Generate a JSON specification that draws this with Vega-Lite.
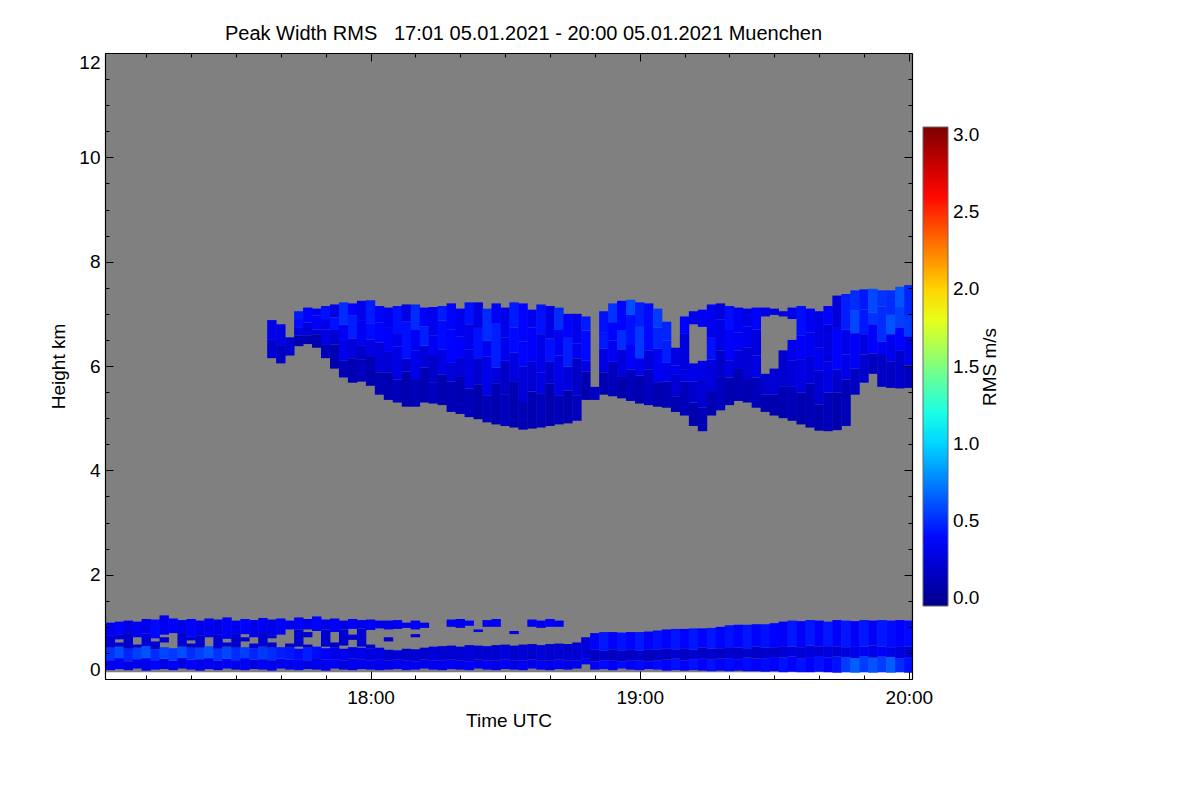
{
  "$schema": "https://vega.github.io/schema/vega-lite/v6.json",
  "width": 807,
  "height": 626,
  "autosize": {"type": "none"},
  "padding": {"left": 105, "top": 53, "right": 288, "bottom": 121},
  "background": "white",
  "title": {
    "text": "Peak Width RMS\u00a0\u00a0\u00a017:01 05.01.2021 - 20:00 05.01.2021 Muenchen",
    "font": "Liberation Sans",
    "fontSize": 20,
    "fontWeight": "normal",
    "color": "black",
    "dx": 15,
    "offset": 9
  },
  "config": {
    "font": "Liberation Sans",
    "view": {"stroke": null}
  },
  "datasets": {
    "bg": [{"t0": 0.8, "t1": 180.7, "a": 0.13, "b": 12}],
    "c": [
      {"t":2,"a":0.17,"b":0.36,"v":0.3},{"t":2,"a":0.36,"b":0.6,"v":0.52},{"t":2,"a":0.6,"b":0.84,"v":0.22},{"t":2,"a":0.84,"b":1.08,"v":0.32},
      {"t":4,"a":0.19,"b":0.4,"v":0.36},{"t":4,"a":0.4,"b":0.62,"v":0.6},{"t":4,"a":0.62,"b":0.7,"v":0.2},{"t":4,"a":0.76,"b":0.86,"v":0.24},{"t":4,"a":0.86,"b":1.1,"v":0.38},
      {"t":6,"a":0.17,"b":0.34,"v":0.28},{"t":6,"a":0.34,"b":0.58,"v":0.48},{"t":6,"a":0.58,"b":0.88,"v":0.18},{"t":6,"a":0.88,"b":1.12,"v":0.28},
      {"t":8,"a":0.2,"b":0.38,"v":0.34},{"t":8,"a":0.38,"b":0.6,"v":0.56},{"t":8,"a":0.6,"b":0.66,"v":0.22},{"t":8,"a":0.8,"b":1.1,"v":0.34},
      {"t":10,"a":0.16,"b":0.4,"v":0.3},{"t":10,"a":0.4,"b":0.63,"v":0.62},{"t":10,"a":0.63,"b":0.87,"v":0.24},{"t":10,"a":0.87,"b":1.15,"v":0.3},
      {"t":12,"a":0.18,"b":0.36,"v":0.38},{"t":12,"a":0.36,"b":0.57,"v":0.5},{"t":12,"a":0.57,"b":0.72,"v":0.2},{"t":12,"a":0.78,"b":1.14,"v":0.4},
      {"t":14,"a":0.19,"b":0.39,"v":0.3},{"t":14,"a":0.39,"b":0.61,"v":0.58},{"t":14,"a":0.7,"b":0.8,"v":0.22},{"t":14,"a":0.85,"b":1.22,"v":0.32},
      {"t":16,"a":0.17,"b":0.35,"v":0.34},{"t":16,"a":0.35,"b":0.59,"v":0.54},{"t":16,"a":0.88,"b":1.16,"v":0.36},
      {"t":18,"a":0.2,"b":0.41,"v":0.28},{"t":18,"a":0.41,"b":0.62,"v":0.6},{"t":18,"a":0.62,"b":0.9,"v":0.22},{"t":18,"a":0.9,"b":1.13,"v":0.3},
      {"t":20,"a":0.18,"b":0.37,"v":0.36},{"t":20,"a":0.37,"b":0.6,"v":0.5},{"t":20,"a":0.6,"b":0.68,"v":0.2},{"t":20,"a":0.74,"b":0.82,"v":0.24},{"t":20,"a":0.82,"b":1.15,"v":0.38},
      {"t":22,"a":0.16,"b":0.38,"v":0.3},{"t":22,"a":0.38,"b":0.6,"v":0.56},{"t":22,"a":0.6,"b":0.84,"v":0.2},{"t":22,"a":0.84,"b":1.12,"v":0.3},
      {"t":24,"a":0.19,"b":0.4,"v":0.34},{"t":24,"a":0.4,"b":0.63,"v":0.62},{"t":24,"a":0.8,"b":1.16,"v":0.34},
      {"t":26,"a":0.17,"b":0.35,"v":0.3},{"t":26,"a":0.35,"b":0.58,"v":0.52},{"t":26,"a":0.58,"b":0.86,"v":0.22},{"t":26,"a":0.86,"b":1.14,"v":0.28},
      {"t":28,"a":0.2,"b":0.39,"v":0.36},{"t":28,"a":0.39,"b":0.62,"v":0.58},{"t":28,"a":0.62,"b":0.7,"v":0.2},{"t":28,"a":0.77,"b":1.18,"v":0.36},
      {"t":30,"a":0.18,"b":0.36,"v":0.3},{"t":30,"a":0.36,"b":0.6,"v":0.5},{"t":30,"a":0.6,"b":0.88,"v":0.2},{"t":30,"a":0.88,"b":1.12,"v":0.32},
      {"t":32,"a":0.17,"b":0.4,"v":0.34},{"t":32,"a":0.4,"b":0.61,"v":0.56},{"t":32,"a":0.72,"b":0.8,"v":0.2},{"t":32,"a":0.86,"b":1.15,"v":0.38},
      {"t":34,"a":0.19,"b":0.37,"v":0.28},{"t":34,"a":0.37,"b":0.59,"v":0.48},{"t":34,"a":0.59,"b":0.68,"v":0.22},{"t":34,"a":0.8,"b":1.13,"v":0.3},
      {"t":36,"a":0.18,"b":0.38,"v":0.34},{"t":36,"a":0.38,"b":0.62,"v":0.54},{"t":36,"a":0.62,"b":0.9,"v":0.2},{"t":36,"a":0.9,"b":1.17,"v":0.34},
      {"t":38,"a":0.16,"b":0.36,"v":0.3},{"t":38,"a":0.36,"b":0.6,"v":0.5},{"t":38,"a":0.6,"b":0.7,"v":0.2},{"t":38,"a":0.78,"b":0.84,"v":0.22},{"t":38,"a":0.84,"b":1.14,"v":0.3},
      {"t":40,"a":0.2,"b":0.39,"v":0.32},{"t":40,"a":0.39,"b":0.61,"v":0.46},{"t":40,"a":0.85,"b":1.16,"v":0.36},
      {"t":42,"a":0.18,"b":0.37,"v":0.3},{"t":42,"a":0.37,"b":0.6,"v":0.44},{"t":42,"a":0.6,"b":0.68,"v":0.22},{"t":42,"a":0.95,"b":1.12,"v":0.32},
      {"t":44,"a":0.17,"b":0.38,"v":0.34},{"t":44,"a":0.38,"b":0.58,"v":0.4},{"t":44,"a":0.62,"b":0.95,"v":0.2},{"t":44,"a":0.95,"b":1.18,"v":0.36},
      {"t":46,"a":0.19,"b":0.36,"v":0.28},{"t":46,"a":0.36,"b":0.6,"v":0.46},{"t":46,"a":0.6,"b":0.66,"v":0.22},{"t":46,"a":0.8,"b":0.9,"v":0.2},{"t":46,"a":0.95,"b":1.15,"v":0.3},
      {"t":48,"a":0.18,"b":0.4,"v":0.32},{"t":48,"a":0.4,"b":0.62,"v":0.4},{"t":48,"a":0.92,"b":1.2,"v":0.38},
      {"t":50,"a":0.16,"b":0.37,"v":0.3},{"t":50,"a":0.37,"b":0.59,"v":0.36},{"t":50,"a":0.62,"b":0.95,"v":0.2},{"t":50,"a":0.95,"b":1.14,"v":0.3},
      {"t":52,"a":0.2,"b":0.38,"v":0.34},{"t":52,"a":0.38,"b":0.6,"v":0.3},{"t":52,"a":0.6,"b":0.7,"v":0.2},{"t":52,"a":0.9,"b":1.16,"v":0.34},
      {"t":54,"a":0.18,"b":0.36,"v":0.28},{"t":54,"a":0.36,"b":0.58,"v":0.32},{"t":54,"a":0.64,"b":0.95,"v":0.2},{"t":54,"a":0.95,"b":1.12,"v":0.28},
      {"t":56,"a":0.17,"b":0.39,"v":0.3},{"t":56,"a":0.39,"b":0.61,"v":0.28},{"t":56,"a":0.75,"b":0.85,"v":0.2},{"t":56,"a":0.96,"b":1.15,"v":0.36},
      {"t":58,"a":0.19,"b":0.37,"v":0.32},{"t":58,"a":0.37,"b":0.6,"v":0.3},{"t":58,"a":0.62,"b":0.97,"v":0.22},{"t":58,"a":0.97,"b":1.13,"v":0.3},
      {"t":60,"a":0.18,"b":0.36,"v":0.3},{"t":60,"a":0.36,"b":0.59,"v":0.26},{"t":60,"a":0.59,"b":0.66,"v":0.2},{"t":60,"a":0.94,"b":1.14,"v":0.34},
      {"t":62,"a":0.17,"b":0.38,"v":0.32},{"t":62,"a":0.38,"b":0.6,"v":0.28},{"t":62,"a":0.97,"b":1.12,"v":0.3},
      {"t":64,"a":0.18,"b":0.35,"v":0.3},{"t":64,"a":0.35,"b":0.56,"v":0.2},{"t":64,"a":0.72,"b":0.8,"v":0.2},{"t":64,"a":0.95,"b":1.12,"v":0.3},
      {"t":66,"a":0.19,"b":0.37,"v":0.34},{"t":66,"a":0.37,"b":0.55,"v":0.22},{"t":66,"a":0.96,"b":1.13,"v":0.34},
      {"t":68,"a":0.17,"b":0.36,"v":0.3},{"t":68,"a":0.36,"b":0.58,"v":0.2},{"t":68,"a":0.98,"b":1.08,"v":0.3},
      {"t":70,"a":0.18,"b":0.34,"v":0.34},{"t":70,"a":0.34,"b":0.57,"v":0.22},{"t":70,"a":0.8,"b":0.86,"v":0.2},{"t":70,"a":0.95,"b":1.12,"v":0.36},
      {"t":72,"a":0.2,"b":0.37,"v":0.3},{"t":72,"a":0.37,"b":0.6,"v":0.2},{"t":72,"a":0.98,"b":1.08,"v":0.3},
      {"t":74,"a":0.18,"b":0.36,"v":0.34},{"t":74,"a":0.36,"b":0.62,"v":0.24},
      {"t":76,"a":0.17,"b":0.35,"v":0.3},{"t":76,"a":0.35,"b":0.63,"v":0.2},
      {"t":78,"a":0.19,"b":0.37,"v":0.34},{"t":78,"a":0.37,"b":0.64,"v":0.22},{"t":78,"a":1.0,"b":1.14,"v":0.35},
      {"t":80,"a":0.18,"b":0.36,"v":0.3},{"t":80,"a":0.36,"b":0.62,"v":0.2},{"t":80,"a":0.98,"b":1.15,"v":0.3},
      {"t":82,"a":0.17,"b":0.34,"v":0.34},{"t":82,"a":0.34,"b":0.65,"v":0.24},{"t":82,"a":1.02,"b":1.12,"v":0.35},
      {"t":84,"a":0.2,"b":0.37,"v":0.3},{"t":84,"a":0.37,"b":0.64,"v":0.2},{"t":84,"a":0.9,"b":0.95,"v":0.3},
      {"t":86,"a":0.18,"b":0.35,"v":0.34},{"t":86,"a":0.35,"b":0.63,"v":0.22},{"t":86,"a":1.0,"b":1.13,"v":0.32},
      {"t":88,"a":0.17,"b":0.36,"v":0.3},{"t":88,"a":0.36,"b":0.65,"v":0.2},{"t":88,"a":1.0,"b":1.15,"v":0.36},
      {"t":90,"a":0.19,"b":0.37,"v":0.34},{"t":90,"a":0.37,"b":0.66,"v":0.24},
      {"t":92,"a":0.18,"b":0.35,"v":0.3},{"t":92,"a":0.35,"b":0.64,"v":0.2},{"t":92,"a":0.86,"b":0.92,"v":0.3},
      {"t":94,"a":0.17,"b":0.36,"v":0.34},{"t":94,"a":0.36,"b":0.66,"v":0.22},
      {"t":96,"a":0.2,"b":0.37,"v":0.3},{"t":96,"a":0.37,"b":0.67,"v":0.2},{"t":96,"a":1.0,"b":1.14,"v":0.34},
      {"t":98,"a":0.18,"b":0.35,"v":0.34},{"t":98,"a":0.35,"b":0.65,"v":0.24},{"t":98,"a":0.98,"b":1.12,"v":0.3},
      {"t":100,"a":0.17,"b":0.36,"v":0.3},{"t":100,"a":0.36,"b":0.67,"v":0.2},{"t":100,"a":1.0,"b":1.15,"v":0.36},
      {"t":102,"a":0.19,"b":0.37,"v":0.34},{"t":102,"a":0.37,"b":0.68,"v":0.22},{"t":102,"a":1.0,"b":1.12,"v":0.32},
      {"t":104,"a":0.18,"b":0.35,"v":0.3},{"t":104,"a":0.35,"b":0.67,"v":0.2},
      {"t":106,"a":0.2,"b":0.36,"v":0.32},{"t":106,"a":0.36,"b":0.7,"v":0.22},
      {"t":108,"a":0.28,"b":0.4,"v":0.3},{"t":108,"a":0.4,"b":0.8,"v":0.24},
      {"t":110,"a":0.18,"b":0.34,"v":0.35},{"t":110,"a":0.34,"b":0.56,"v":0.14},{"t":110,"a":0.56,"b":0.88,"v":0.36},
      {"t":112,"a":0.19,"b":0.36,"v":0.4},{"t":112,"a":0.36,"b":0.54,"v":0.18},{"t":112,"a":0.54,"b":0.9,"v":0.44},
      {"t":114,"a":0.17,"b":0.35,"v":0.35},{"t":114,"a":0.35,"b":0.57,"v":0.14},{"t":114,"a":0.57,"b":0.9,"v":0.36},
      {"t":116,"a":0.2,"b":0.34,"v":0.4},{"t":116,"a":0.34,"b":0.55,"v":0.18},{"t":116,"a":0.55,"b":0.89,"v":0.42},
      {"t":118,"a":0.18,"b":0.36,"v":0.35},{"t":118,"a":0.36,"b":0.56,"v":0.14},{"t":118,"a":0.56,"b":0.9,"v":0.38},
      {"t":120,"a":0.17,"b":0.35,"v":0.4},{"t":120,"a":0.35,"b":0.54,"v":0.18},{"t":120,"a":0.54,"b":0.9,"v":0.44},
      {"t":122,"a":0.19,"b":0.34,"v":0.35},{"t":122,"a":0.34,"b":0.56,"v":0.14},{"t":122,"a":0.56,"b":0.91,"v":0.36},
      {"t":124,"a":0.18,"b":0.36,"v":0.4},{"t":124,"a":0.36,"b":0.57,"v":0.18},{"t":124,"a":0.57,"b":0.93,"v":0.42},
      {"t":126,"a":0.16,"b":0.37,"v":0.36},{"t":126,"a":0.37,"b":0.58,"v":0.16},{"t":126,"a":0.58,"b":0.95,"v":0.38},
      {"t":128,"a":0.17,"b":0.39,"v":0.42},{"t":128,"a":0.39,"b":0.57,"v":0.2},{"t":128,"a":0.57,"b":0.96,"v":0.44},
      {"t":130,"a":0.16,"b":0.36,"v":0.36},{"t":130,"a":0.36,"b":0.59,"v":0.16},{"t":130,"a":0.59,"b":0.96,"v":0.38},
      {"t":132,"a":0.17,"b":0.38,"v":0.42},{"t":132,"a":0.38,"b":0.56,"v":0.2},{"t":132,"a":0.56,"b":0.97,"v":0.44},
      {"t":134,"a":0.16,"b":0.4,"v":0.36},{"t":134,"a":0.4,"b":0.6,"v":0.16},{"t":134,"a":0.6,"b":0.97,"v":0.38},
      {"t":136,"a":0.15,"b":0.37,"v":0.42},{"t":136,"a":0.37,"b":0.58,"v":0.2},{"t":136,"a":0.58,"b":0.98,"v":0.44},
      {"t":138,"a":0.16,"b":0.39,"v":0.36},{"t":138,"a":0.39,"b":0.59,"v":0.16},{"t":138,"a":0.59,"b":1.0,"v":0.38},
      {"t":140,"a":0.15,"b":0.4,"v":0.4},{"t":140,"a":0.4,"b":0.61,"v":0.2},{"t":140,"a":0.61,"b":1.03,"v":0.42},
      {"t":142,"a":0.16,"b":0.38,"v":0.36},{"t":142,"a":0.38,"b":0.6,"v":0.18},{"t":142,"a":0.6,"b":1.04,"v":0.38},
      {"t":144,"a":0.15,"b":0.41,"v":0.4},{"t":144,"a":0.41,"b":0.59,"v":0.2},{"t":144,"a":0.59,"b":1.04,"v":0.44},
      {"t":146,"a":0.15,"b":0.39,"v":0.36},{"t":146,"a":0.39,"b":0.62,"v":0.18},{"t":146,"a":0.62,"b":1.05,"v":0.38},
      {"t":148,"a":0.14,"b":0.4,"v":0.4},{"t":148,"a":0.4,"b":0.6,"v":0.2},{"t":148,"a":0.6,"b":1.05,"v":0.42},
      {"t":150,"a":0.15,"b":0.42,"v":0.36},{"t":150,"a":0.42,"b":0.61,"v":0.18},{"t":150,"a":0.61,"b":1.07,"v":0.38},
      {"t":152,"a":0.13,"b":0.41,"v":0.42},{"t":152,"a":0.41,"b":0.63,"v":0.22},{"t":152,"a":0.63,"b":1.1,"v":0.36},
      {"t":154,"a":0.14,"b":0.43,"v":0.36},{"t":154,"a":0.43,"b":0.62,"v":0.26},{"t":154,"a":0.62,"b":1.12,"v":0.44},
      {"t":156,"a":0.13,"b":0.4,"v":0.42},{"t":156,"a":0.4,"b":0.61,"v":0.22},{"t":156,"a":0.61,"b":1.11,"v":0.36},
      {"t":158,"a":0.13,"b":0.42,"v":0.36},{"t":158,"a":0.42,"b":0.64,"v":0.26},{"t":158,"a":0.64,"b":1.13,"v":0.44},
      {"t":160,"a":0.14,"b":0.44,"v":0.42},{"t":160,"a":0.44,"b":0.62,"v":0.22},{"t":160,"a":0.62,"b":1.12,"v":0.36},
      {"t":162,"a":0.13,"b":0.41,"v":0.36},{"t":162,"a":0.41,"b":0.63,"v":0.26},{"t":162,"a":0.63,"b":1.1,"v":0.44},
      {"t":164,"a":0.12,"b":0.43,"v":0.42},{"t":164,"a":0.43,"b":0.62,"v":0.22},{"t":164,"a":0.62,"b":1.13,"v":0.36},
      {"t":166,"a":0.13,"b":0.42,"v":0.55},{"t":166,"a":0.42,"b":0.61,"v":0.26},{"t":166,"a":0.61,"b":1.12,"v":0.44},
      {"t":168,"a":0.12,"b":0.4,"v":0.65},{"t":168,"a":0.4,"b":0.63,"v":0.3},{"t":168,"a":0.63,"b":1.11,"v":0.36},
      {"t":170,"a":0.13,"b":0.44,"v":0.55},{"t":170,"a":0.44,"b":0.62,"v":0.34},{"t":170,"a":0.62,"b":1.13,"v":0.44},
      {"t":172,"a":0.12,"b":0.41,"v":0.62},{"t":172,"a":0.41,"b":0.64,"v":0.3},{"t":172,"a":0.64,"b":1.12,"v":0.36},
      {"t":174,"a":0.13,"b":0.43,"v":0.55},{"t":174,"a":0.43,"b":0.62,"v":0.36},{"t":174,"a":0.62,"b":1.13,"v":0.44},
      {"t":176,"a":0.12,"b":0.42,"v":0.65},{"t":176,"a":0.42,"b":0.61,"v":0.3},{"t":176,"a":0.61,"b":1.12,"v":0.4},
      {"t":178,"a":0.13,"b":0.4,"v":0.5},{"t":178,"a":0.4,"b":0.63,"v":0.26},{"t":178,"a":0.63,"b":1.13,"v":0.36},
      {"t":180,"a":0.12,"b":0.42,"v":0.42},{"t":180,"a":0.42,"b":0.62,"v":0.22},{"t":180,"a":0.62,"b":1.12,"v":0.4},

      {"t":38,"a":6.15,"b":6.5,"v":0.2},{"t":38,"a":6.5,"b":6.88,"v":0.3},
      {"t":40,"a":6.05,"b":6.4,"v":0.16},{"t":40,"a":6.4,"b":6.8,"v":0.28},
      {"t":42,"a":6.2,"b":6.55,"v":0.2},
      {"t":44,"a":6.38,"b":6.58,"v":0.09},{"t":44,"a":6.58,"b":6.73,"v":0.27},{"t":44,"a":6.73,"b":6.9,"v":0.4},{"t":44,"a":6.9,"b":7.05,"v":0.45},
      {"t":46,"a":6.42,"b":6.59,"v":0.11},{"t":46,"a":6.59,"b":6.83,"v":0.24},{"t":46,"a":6.83,"b":6.92,"v":0.38},{"t":46,"a":6.92,"b":7.12,"v":0.38},
      {"t":48,"a":6.35,"b":6.61,"v":0.1},{"t":48,"a":6.61,"b":6.7,"v":0.22},{"t":48,"a":6.7,"b":6.97,"v":0.36},{"t":48,"a":6.97,"b":7.1,"v":0.32},
      {"t":50,"a":6.15,"b":6.42,"v":0.13},{"t":50,"a":6.42,"b":6.7,"v":0.28},{"t":50,"a":6.7,"b":6.9,"v":0.3},{"t":50,"a":6.9,"b":7.15,"v":0.42},
      {"t":52,"a":5.95,"b":6.41,"v":0.08},{"t":52,"a":6.41,"b":6.69,"v":0.2},{"t":52,"a":6.69,"b":6.93,"v":0.42},{"t":52,"a":6.93,"b":7.18,"v":0.28},
      {"t":54,"a":5.78,"b":6.1,"v":0.12},{"t":54,"a":6.1,"b":6.5,"v":0.3},{"t":54,"a":6.5,"b":6.79,"v":0.34},{"t":54,"a":6.79,"b":7.22,"v":0.5},
      {"t":56,"a":5.68,"b":6.15,"v":0.1},{"t":56,"a":6.15,"b":6.53,"v":0.25},{"t":56,"a":6.53,"b":6.97,"v":0.46},{"t":56,"a":6.97,"b":7.2,"v":0.36},
      {"t":58,"a":5.7,"b":6.13,"v":0.14},{"t":58,"a":6.13,"b":6.4,"v":0.18},{"t":58,"a":6.4,"b":6.88,"v":0.32},{"t":58,"a":6.88,"b":7.25,"v":0.3},
      {"t":60,"a":5.62,"b":6.19,"v":0.09},{"t":60,"a":6.19,"b":6.51,"v":0.27},{"t":60,"a":6.51,"b":6.82,"v":0.4},{"t":60,"a":6.82,"b":7.26,"v":0.45},
      {"t":62,"a":5.45,"b":5.88,"v":0.11},{"t":62,"a":5.88,"b":6.45,"v":0.24},{"t":62,"a":6.45,"b":6.83,"v":0.38},{"t":62,"a":6.83,"b":7.15,"v":0.38},
      {"t":64,"a":5.35,"b":5.88,"v":0.1},{"t":64,"a":5.88,"b":6.27,"v":0.22},{"t":64,"a":6.27,"b":6.73,"v":0.36},{"t":64,"a":6.73,"b":7.12,"v":0.32},
      {"t":66,"a":5.3,"b":5.74,"v":0.13},{"t":66,"a":5.74,"b":6.37,"v":0.28},{"t":66,"a":6.37,"b":6.63,"v":0.3},{"t":66,"a":6.63,"b":7.15,"v":0.42},
      {"t":68,"a":5.22,"b":5.89,"v":0.08},{"t":68,"a":5.89,"b":6.14,"v":0.2},{"t":68,"a":6.14,"b":6.85,"v":0.42},{"t":68,"a":6.85,"b":7.18,"v":0.28},
      {"t":70,"a":5.22,"b":5.75,"v":0.12},{"t":70,"a":5.75,"b":6.3,"v":0.3},{"t":70,"a":6.3,"b":6.69,"v":0.34},{"t":70,"a":6.69,"b":7.18,"v":0.5},
      {"t":72,"a":5.3,"b":5.97,"v":0.1},{"t":72,"a":5.97,"b":6.39,"v":0.25},{"t":72,"a":6.39,"b":6.76,"v":0.46},{"t":72,"a":6.76,"b":7.12,"v":0.36},
      {"t":74,"a":5.28,"b":5.69,"v":0.14},{"t":74,"a":5.69,"b":6.21,"v":0.18},{"t":74,"a":6.21,"b":6.58,"v":0.32},{"t":74,"a":6.58,"b":7.13,"v":0.3},
      {"t":76,"a":5.25,"b":5.84,"v":0.09},{"t":76,"a":5.84,"b":6.31,"v":0.27},{"t":76,"a":6.31,"b":6.87,"v":0.4},{"t":76,"a":6.87,"b":7.15,"v":0.45},
      {"t":78,"a":5.12,"b":5.7,"v":0.11},{"t":78,"a":5.7,"b":6.06,"v":0.24},{"t":78,"a":6.06,"b":6.7,"v":0.38},{"t":78,"a":6.7,"b":7.2,"v":0.38},
      {"t":80,"a":5.08,"b":5.79,"v":0.1},{"t":80,"a":5.79,"b":6.17,"v":0.22},{"t":80,"a":6.17,"b":6.56,"v":0.36},{"t":80,"a":6.56,"b":7.1,"v":0.32},
      {"t":82,"a":5.02,"b":5.57,"v":0.13},{"t":82,"a":5.57,"b":6.32,"v":0.28},{"t":82,"a":6.32,"b":6.8,"v":0.3},{"t":82,"a":6.8,"b":7.22,"v":0.42},
      {"t":84,"a":4.98,"b":5.65,"v":0.08},{"t":84,"a":5.65,"b":6.15,"v":0.2},{"t":84,"a":6.15,"b":6.73,"v":0.42},{"t":84,"a":6.73,"b":7.22,"v":0.28},
      {"t":86,"a":4.92,"b":5.44,"v":0.12},{"t":86,"a":5.44,"b":6.18,"v":0.3},{"t":86,"a":6.18,"b":6.49,"v":0.34},{"t":86,"a":6.49,"b":7.1,"v":0.5},
      {"t":88,"a":4.88,"b":5.67,"v":0.1},{"t":88,"a":5.67,"b":5.97,"v":0.25},{"t":88,"a":5.97,"b":6.81,"v":0.46},{"t":88,"a":6.81,"b":7.2,"v":0.36},
      {"t":90,"a":4.85,"b":5.46,"v":0.14},{"t":90,"a":5.46,"b":6.1,"v":0.18},{"t":90,"a":6.1,"b":6.55,"v":0.32},{"t":90,"a":6.55,"b":7.12,"v":0.3},
      {"t":92,"a":4.82,"b":5.71,"v":0.09},{"t":92,"a":5.71,"b":6.26,"v":0.27},{"t":92,"a":6.26,"b":6.74,"v":0.4},{"t":92,"a":6.74,"b":7.22,"v":0.45},
      {"t":94,"a":4.78,"b":5.31,"v":0.11},{"t":94,"a":5.31,"b":5.99,"v":0.24},{"t":94,"a":5.99,"b":6.47,"v":0.38},{"t":94,"a":6.47,"b":7.2,"v":0.38},
      {"t":96,"a":4.8,"b":5.51,"v":0.1},{"t":96,"a":5.51,"b":6.08,"v":0.22},{"t":96,"a":6.08,"b":6.74,"v":0.36},{"t":96,"a":6.74,"b":7.08,"v":0.32},
      {"t":98,"a":4.82,"b":5.48,"v":0.13},{"t":98,"a":5.48,"b":5.88,"v":0.28},{"t":98,"a":5.88,"b":6.61,"v":0.3},{"t":98,"a":6.61,"b":7.18,"v":0.42},
      {"t":100,"a":4.85,"b":5.66,"v":0.08},{"t":100,"a":5.66,"b":6.09,"v":0.2},{"t":100,"a":6.09,"b":6.53,"v":0.42},{"t":100,"a":6.53,"b":7.15,"v":0.28},
      {"t":102,"a":4.88,"b":5.44,"v":0.12},{"t":102,"a":5.44,"b":6.2,"v":0.3},{"t":102,"a":6.2,"b":6.69,"v":0.34},{"t":102,"a":6.69,"b":7.12,"v":0.5},
      {"t":104,"a":4.9,"b":5.53,"v":0.1},{"t":104,"a":5.53,"b":5.99,"v":0.25},{"t":104,"a":5.99,"b":6.54,"v":0.46},{"t":104,"a":6.54,"b":7.0,"v":0.36},
      {"t":106,"a":4.95,"b":5.44,"v":0.14},{"t":106,"a":5.44,"b":6.14,"v":0.18},{"t":106,"a":6.14,"b":6.43,"v":0.32},{"t":106,"a":6.43,"b":7.0,"v":0.3},
      {"t":108,"a":5.35,"b":5.89,"v":0.09},{"t":108,"a":5.89,"b":6.1,"v":0.27},{"t":108,"a":6.1,"b":6.68,"v":0.4},{"t":108,"a":6.68,"b":6.95,"v":0.45},
      {"t":110,"a":5.35,"b":5.6,"v":0.15},
      {"t":112,"a":5.45,"b":5.88,"v":0.1},{"t":112,"a":5.88,"b":6.33,"v":0.28},{"t":112,"a":6.33,"b":6.65,"v":0.44},{"t":112,"a":6.65,"b":7.05,"v":0.42},
      {"t":114,"a":5.42,"b":6.08,"v":0.13},{"t":114,"a":6.08,"b":6.49,"v":0.34},{"t":114,"a":6.49,"b":6.84,"v":0.38},{"t":114,"a":6.84,"b":7.2,"v":0.52},
      {"t":116,"a":5.38,"b":5.79,"v":0.08},{"t":116,"a":5.79,"b":6.32,"v":0.26},{"t":116,"a":6.32,"b":6.69,"v":0.5},{"t":116,"a":6.69,"b":7.25,"v":0.38},
      {"t":118,"a":5.33,"b":5.93,"v":0.12},{"t":118,"a":5.93,"b":6.42,"v":0.36},{"t":118,"a":6.42,"b":6.98,"v":0.42},{"t":118,"a":6.98,"b":7.27,"v":0.6},
      {"t":120,"a":5.28,"b":5.82,"v":0.1},{"t":120,"a":5.82,"b":6.15,"v":0.31},{"t":120,"a":6.15,"b":6.75,"v":0.54},{"t":120,"a":6.75,"b":7.22,"v":0.46},
      {"t":122,"a":5.25,"b":5.93,"v":0.14},{"t":122,"a":5.93,"b":6.3,"v":0.24},{"t":122,"a":6.3,"b":6.67,"v":0.4},{"t":122,"a":6.67,"b":7.2,"v":0.4},
      {"t":124,"a":5.22,"b":5.69,"v":0.09},{"t":124,"a":5.69,"b":6.33,"v":0.33},{"t":124,"a":6.33,"b":6.74,"v":0.48},{"t":124,"a":6.74,"b":7.1,"v":0.55},
      {"t":126,"a":5.2,"b":5.7,"v":0.11},{"t":126,"a":5.7,"b":6.06,"v":0.3},{"t":126,"a":6.06,"b":6.49,"v":0.46},{"t":126,"a":6.49,"b":6.85,"v":0.48},
      {"t":128,"a":5.12,"b":5.42,"v":0.1},{"t":128,"a":5.42,"b":5.83,"v":0.22},{"t":128,"a":5.83,"b":6.01,"v":0.32},{"t":128,"a":6.01,"b":6.35,"v":0.28},
      {"t":130,"a":5.05,"b":5.7,"v":0.13},{"t":130,"a":5.7,"b":5.94,"v":0.28},{"t":130,"a":5.94,"b":6.63,"v":0.26},{"t":130,"a":6.63,"b":6.95,"v":0.38},
      {"t":132,"a":4.85,"b":5.3,"v":0.08},{"t":132,"a":5.3,"b":5.7,"v":0.2},{"t":132,"a":5.7,"b":6.05,"v":0.3},{"t":132,"a":6.8,"b":7.05,"v":0.3},
      {"t":134,"a":4.75,"b":5.2,"v":0.12},{"t":134,"a":5.2,"b":5.75,"v":0.22},{"t":134,"a":5.75,"b":6.1,"v":0.28},{"t":134,"a":6.75,"b":7.08,"v":0.34},
      {"t":136,"a":5.05,"b":5.52,"v":0.1},{"t":136,"a":5.52,"b":6.12,"v":0.25},{"t":136,"a":6.12,"b":6.54,"v":0.42},{"t":136,"a":6.54,"b":7.18,"v":0.32},
      {"t":138,"a":5.15,"b":5.79,"v":0.14},{"t":138,"a":5.79,"b":6.3,"v":0.18},{"t":138,"a":6.3,"b":6.89,"v":0.28},{"t":138,"a":6.89,"b":7.2,"v":0.26},
      {"t":140,"a":5.25,"b":5.78,"v":0.09},{"t":140,"a":5.78,"b":6.11,"v":0.27},{"t":140,"a":6.11,"b":6.69,"v":0.36},{"t":140,"a":6.69,"b":7.15,"v":0.41},
      {"t":142,"a":5.33,"b":5.96,"v":0.11},{"t":142,"a":5.96,"b":6.3,"v":0.24},{"t":142,"a":6.3,"b":6.64,"v":0.34},{"t":142,"a":6.64,"b":7.12,"v":0.34},
      {"t":144,"a":5.3,"b":5.75,"v":0.1},{"t":144,"a":5.75,"b":6.36,"v":0.22},{"t":144,"a":6.36,"b":6.76,"v":0.32},{"t":144,"a":6.76,"b":7.1,"v":0.28},
      {"t":146,"a":5.2,"b":5.78,"v":0.13},{"t":146,"a":5.78,"b":6.2,"v":0.28},{"t":146,"a":6.2,"b":6.7,"v":0.26},{"t":146,"a":6.7,"b":7.12,"v":0.38},
      {"t":148,"a":5.12,"b":5.45,"v":0.1},{"t":148,"a":5.45,"b":5.85,"v":0.2},{"t":148,"a":6.95,"b":7.12,"v":0.28},
      {"t":150,"a":5.05,"b":5.45,"v":0.08},{"t":150,"a":5.45,"b":5.95,"v":0.22},{"t":150,"a":6.98,"b":7.1,"v":0.26},
      {"t":152,"a":5.0,"b":5.6,"v":0.1},{"t":152,"a":5.6,"b":6.3,"v":0.2},{"t":152,"a":6.95,"b":7.05,"v":0.25},
      {"t":154,"a":4.95,"b":5.6,"v":0.12},{"t":154,"a":5.6,"b":6.1,"v":0.24},{"t":154,"a":6.1,"b":6.5,"v":0.3},{"t":154,"a":6.9,"b":7.12,"v":0.3},
      {"t":156,"a":4.88,"b":5.49,"v":0.09},{"t":156,"a":5.49,"b":6.13,"v":0.27},{"t":156,"a":6.13,"b":6.58,"v":0.36},{"t":156,"a":6.58,"b":7.15,"v":0.41},
      {"t":158,"a":4.82,"b":5.66,"v":0.11},{"t":158,"a":5.66,"b":6.19,"v":0.24},{"t":158,"a":6.19,"b":6.64,"v":0.34},{"t":158,"a":6.64,"b":7.1,"v":0.34},
      {"t":160,"a":4.76,"b":5.26,"v":0.1},{"t":160,"a":5.26,"b":5.91,"v":0.22},{"t":160,"a":5.91,"b":6.36,"v":0.32},{"t":160,"a":6.36,"b":7.05,"v":0.28},
      {"t":162,"a":4.75,"b":5.49,"v":0.13},{"t":162,"a":5.49,"b":6.09,"v":0.28},{"t":162,"a":6.09,"b":6.79,"v":0.26},{"t":162,"a":6.79,"b":7.15,"v":0.38},
      {"t":164,"a":4.77,"b":5.49,"v":0.08},{"t":164,"a":5.49,"b":5.93,"v":0.2},{"t":164,"a":5.93,"b":6.73,"v":0.38},{"t":164,"a":6.73,"b":7.35,"v":0.24},
      {"t":166,"a":4.85,"b":5.74,"v":0.12},{"t":166,"a":5.74,"b":6.22,"v":0.3},{"t":166,"a":6.22,"b":6.7,"v":0.3},{"t":166,"a":6.7,"b":7.38,"v":0.46},
      {"t":168,"a":5.45,"b":5.95,"v":0.16},{"t":168,"a":5.95,"b":6.63,"v":0.35},{"t":168,"a":6.63,"b":7.07,"v":0.58},{"t":168,"a":7.07,"b":7.45,"v":0.5},
      {"t":170,"a":5.68,"b":6.22,"v":0.2},{"t":170,"a":6.22,"b":6.61,"v":0.28},{"t":170,"a":6.61,"b":7.08,"v":0.44},{"t":170,"a":7.08,"b":7.47,"v":0.44},
      {"t":172,"a":5.85,"b":6.24,"v":0.15},{"t":172,"a":6.24,"b":6.8,"v":0.37},{"t":172,"a":6.8,"b":7.02,"v":0.52},{"t":172,"a":7.02,"b":7.48,"v":0.59},
      {"t":174,"a":5.6,"b":6.23,"v":0.17},{"t":174,"a":6.23,"b":6.47,"v":0.34},{"t":174,"a":6.47,"b":7.14,"v":0.5},{"t":174,"a":7.14,"b":7.45,"v":0.52},
      {"t":176,"a":5.58,"b":6.09,"v":0.16},{"t":176,"a":6.09,"b":6.61,"v":0.32},{"t":176,"a":6.61,"b":6.98,"v":0.62},{"t":176,"a":6.98,"b":7.45,"v":0.5},
      {"t":178,"a":5.57,"b":6.29,"v":0.19},{"t":178,"a":6.29,"b":6.74,"v":0.38},{"t":178,"a":6.74,"b":7.13,"v":0.56},{"t":178,"a":7.13,"b":7.52,"v":0.62},
      {"t":180,"a":5.58,"b":6.01,"v":0.14},{"t":180,"a":6.01,"b":6.57,"v":0.3},{"t":180,"a":6.57,"b":6.96,"v":0.54},{"t":180,"a":6.96,"b":7.55,"v":0.48}
    ]
  },
  "layer": [
    {
      "data": {"name": "bg"},
      "mark": {"type": "rect", "color": "#808080"},
      "encoding": {
        "x": {
          "field": "t0", "type": "quantitative",
          "scale": {"domain": [0.8, 180.7], "nice": false, "zero": false},
          "axis": {
            "orient": "bottom", "title": "Time UTC",
            "values": [10,20,30,40,50,60,70,80,90,100,110,120,130,140,150,160,170,180],
            "labelExpr": "datum.value % 60 === 0 ? (17 + datum.value / 60) + ':00' : ''",
            "labelFlush": false, "labelOverlap": false, "grid": false,
            "tickSize": {"condition": {"test": "datum.value % 60 === 0", "value": -8}, "value": -4},
            "tickColor": "black", "domainColor": "black", "domainWidth": 1.2,
            "labelPadding": 17, "labelFontSize": 19, "labelColor": "black",
            "titleFontSize": 19, "titleFontWeight": "normal", "titleColor": "black", "titlePadding": 0,
            "zindex": 1
          }
        },
        "x2": {"field": "t1"},
        "y": {
          "field": "a", "type": "quantitative",
          "scale": {"domain": [0, 12], "nice": false, "zero": false},
          "axis": {
            "orient": "left", "title": "Height km",
            "values": [0,0.5,1,1.5,2,2.5,3,3.5,4,4.5,5,5.5,6,6.5,7,7.5,8,8.5,9,9.5,10,10.5,11,11.5,12],
            "labelExpr": "datum.value % 2 === 0 ? '' + datum.value : ''",
            "labelFlush": true, "labelOverlap": false, "grid": false,
            "tickSize": {"condition": {"test": "datum.value % 2 === 0", "value": -8}, "value": -4},
            "tickColor": "black", "domainColor": "black", "domainWidth": 1.2,
            "labelPadding": 13, "labelFontSize": 19, "labelColor": "black",
            "titleFontSize": 19, "titleFontWeight": "normal", "titleColor": "black", "titlePadding": 10,
            "zindex": 1
          }
        },
        "y2": {"field": "b"}
      }
    },
    {
      "data": {"name": "c"},
      "mark": {"type": "rect", "width": 9.4, "clip": true},
      "encoding": {
        "x": {"field": "t", "type": "quantitative", "scale": {"domain": [0.8, 180.7], "nice": false, "zero": false}, "axis": null},
        "y": {"field": "a", "type": "quantitative", "scale": {"domain": [0, 12], "nice": false, "zero": false}, "axis": null},
        "y2": {"field": "b"},
        "color": {
          "field": "v", "type": "quantitative",
          "scale": {
            "domain": [-0.05, 0.375, 1.125, 1.875, 2.625, 3.05],
            "range": ["#00008a", "#0000ff", "#00ffff", "#ffff00", "#ff0000", "#7d0000"],
            "interpolate": "rgb"
          },
          "legend": {
            "orient": "none", "legendX": 818, "legendY": 74, "direction": "vertical",
            "gradientLength": 479, "gradientThickness": 25,
            "gradientStrokeColor": "#666", "gradientStrokeWidth": 1,
            "values": [0, 0.5, 1, 1.5, 2, 2.5, 3], "format": ".1f",
            "labelFontSize": 19, "labelColor": "black", "labelOffset": 5, "labelOverlap": false,
            "title": "RMS m/s", "titleOrient": "right", "titleAnchor": "middle",
            "titleFontSize": 19, "titleFontWeight": "normal", "titleColor": "black", "titlePadding": 2,
            "encode": {"title": {"update": {"angle": {"value": -90}, "baseline": {"value": "top"}, "align": {"value": "center"}}}}
          }
        }
      }
    },
    {
      "data": {"name": "bg"},
      "mark": {"type": "rect", "opacity": 0},
      "encoding": {
        "x": {
          "field": "t0", "type": "quantitative",
          "scale": {"domain": [0.8, 180.7], "nice": false, "zero": false},
          "axis": {
            "orient": "top", "title": null, "labels": false, "grid": false,
            "values": [10,20,30,40,50,60,70,80,90,100,110,120,130,140,150,160,170,180],
            "tickSize": {"condition": {"test": "datum.value % 60 === 0", "value": -8}, "value": -4},
            "tickColor": "black", "domainColor": "black", "domainWidth": 1.2, "zindex": 1
          }
        },
        "x2": {"field": "t1"},
        "y": {
          "field": "a", "type": "quantitative",
          "scale": {"domain": [0, 12], "nice": false, "zero": false},
          "axis": {
            "orient": "right", "title": null, "labels": false, "grid": false,
            "values": [0,0.5,1,1.5,2,2.5,3,3.5,4,4.5,5,5.5,6,6.5,7,7.5,8,8.5,9,9.5,10,10.5,11,11.5,12],
            "tickSize": {"condition": {"test": "datum.value % 2 === 0", "value": -8}, "value": -4},
            "tickColor": "black", "domainColor": "black", "domainWidth": 1.2, "zindex": 1
          }
        },
        "y2": {"field": "b"}
      }
    }
  ],
  "resolve": {"axis": {"x": "independent", "y": "independent"}}
}
